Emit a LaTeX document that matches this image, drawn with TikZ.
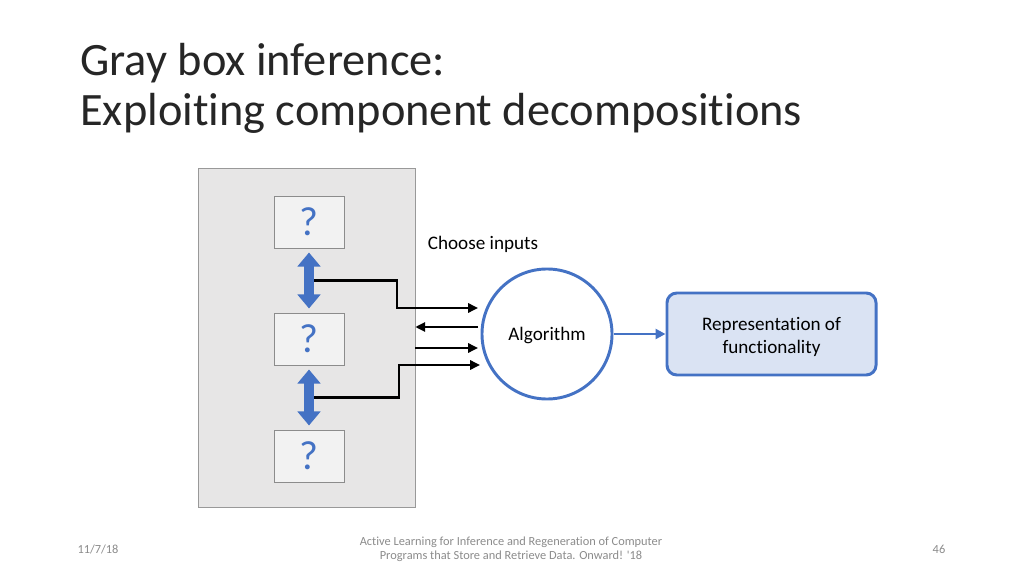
\documentclass[tikz,border=0pt]{standalone}
\usepackage{fontspec}
\setmainfont[Ligatures=CommonOff]{Carlito}
\usepackage{xcolor}
\usetikzlibrary{arrows.meta}

\definecolor{accblue}{HTML}{4472C4}
\definecolor{repfill}{HTML}{DAE3F3}
\definecolor{outerfill}{HTML}{E7E6E6}
\definecolor{partfill}{HTML}{F2F2F2}
\definecolor{titlegray}{HTML}{262626}
\definecolor{footgray}{HTML}{8B8B8B}

\begin{document}
\begin{tikzpicture}[x=0.025cm, y=-0.025cm,
  part/.style={draw=gray!90, fill=partfill, minimum width=1.75cm, minimum height=1.3cm,
    inner sep=0pt, text=accblue, font=\fontsize{29}{32}\selectfont},
  link/.style={accblue, line width=7pt, shorten <=3pt, shorten >=3pt,
    {Triangle[length=10pt,width=16pt]}-{Triangle[length=10pt,width=16pt]}},
  wire/.style={line width=2pt, -{Triangle[length=7pt,width=6.5pt]}},
  body/.style={font=\fontsize{13.6}{17}\selectfont},
  foot/.style={text=footgray, font=\fontsize{8.8}{10}\selectfont}]

\useasboundingbox (0,0) rectangle (1024,576);

% Titel
\node[anchor=base west, inner sep=0pt, text=titlegray, font=\fontsize{33}{36}\selectfont] (t1) at (80,76) {Gray box inference:};
\node[anchor=base west, inner sep=0pt, text=titlegray, font=\fontsize{33}{36}\selectfont] (t2) at (80,126) {Exploiting component decompositions};

% Graue Box mit Komponenten
\node[draw=gray!80, fill=outerfill, minimum width=5.425cm, minimum height=8.475cm] (box) at (306.5,337.5) {};
\node[part] (q1) at (309,222) {?};
\node[part] (q2) at (309,339) {?};
\node[part] (q3) at (309,456) {?};

\draw[link] (q1.south) -- coordinate (m1) (q2.north);
\draw[link] (q2.south) -- coordinate (m2) (q3.north);

% Algorithmus
\node[circle, draw=accblue, line width=2.1pt, fill=white, minimum size=3.25cm, body] (algo) at (547,334) {};
\node[body] (algtext) at (547,336) {Algorithm};
\node[body] (choose) at (483,244) {Choose inputs};

\coordinate (e1) at (478,308);
\coordinate (e2) at (478,327);
\coordinate (e3) at (478,348);
\coordinate (e4) at (480,365);

\draw[wire] ([xshift=3.6pt]m1) -| (397,308) -- (e1);
\draw[wire] (e2) -- (e2 -| box.east);
\draw[wire] (e3 -| box.east) -- (e3);
\draw[wire] ([xshift=3.6pt]m2) -| (399,365) -- (e4);

% Ergebnis
\node[draw=accblue, line width=2.1pt, fill=repfill, rounded corners=7pt, minimum width=5.225cm,
  minimum height=2.05cm, body] (rep) at (771.5,334) {};
\node[align=center, body] (reptext) at (771.5,337) {Representation of\\functionality};
\draw[accblue, line width=1.8pt, -{Triangle[length=7pt,width=7pt]}] (algo) -- (rep);

% Fusszeile
\node[foot] (date) at (98,549) {11/7/18};
\node[foot, align=center] (src) at (511,549) {Active Learning for Inference and Regeneration of Computer\\Programs that Store and Retrieve Data. Onward! \textquotesingle18};
\node[foot] (page) at (939,549) {46};

\end{tikzpicture}
\end{document}
